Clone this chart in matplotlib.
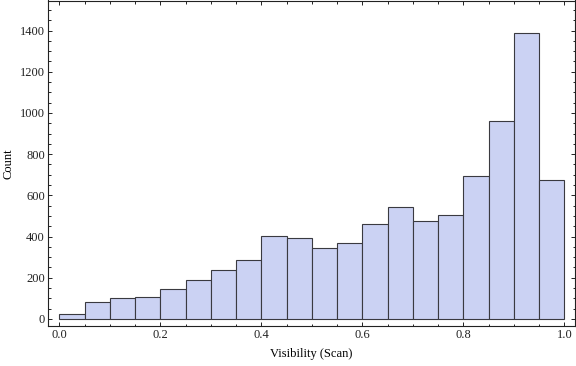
import matplotlib
matplotlib.use("Agg")
import matplotlib.pyplot as plt
from matplotlib.ticker import MultipleLocator
import numpy as np

# histogram of visibility, 20 bins of width 0.05
bin_edges = [round(0.05 * i, 2) for i in range(21)]
counts = [24, 81, 100, 105, 145, 189, 238, 287, 402, 392,
          344, 369, 462, 543, 475, 504, 694, 961, 1389, 674]

plt.rcParams['font.family'] = ['Liberation Serif', 'DejaVu Serif']

fig = plt.figure(figsize=(5.76, 3.66), dpi=100)
ax = fig.add_axes([48.3 / 576, 40 / 366, (575 - 48.3) / 576, 365.5 / 366 - 40 / 366])

left = np.array(bin_edges[:-1])
width = np.diff(bin_edges)
ax.bar(left, counts, width=width, align='edge',
       color='#cbd2f3', edgecolor='#3a3a40', linewidth=0.8)

ax.set_xlim(-0.0218, 1.0208)
ax.set_ylim(-34, 1546)

ax.xaxis.set_major_locator(MultipleLocator(0.2))
ax.xaxis.set_minor_locator(MultipleLocator(0.05))
ax.yaxis.set_major_locator(MultipleLocator(200))
ax.yaxis.set_minor_locator(MultipleLocator(50))
ax.xaxis.set_major_formatter(plt.FuncFormatter(lambda v, p: f"{v:.1f}"))

ax.tick_params(which='both', direction='in', top=True, right=True,
               labelsize=9, colors='#222222', width=0.7)
ax.tick_params(which='major', length=3.2, pad=2.5)
ax.tick_params(which='minor', length=1.8)

for s in ax.spines.values():
    s.set_linewidth(0.8)
    s.set_color('#222222')

ax.set_xlabel('Visibility (Scan)', fontsize=9, labelpad=5)
ax.set_ylabel('Count', fontsize=9, labelpad=4)

fig.savefig('out.png', dpi=100)
